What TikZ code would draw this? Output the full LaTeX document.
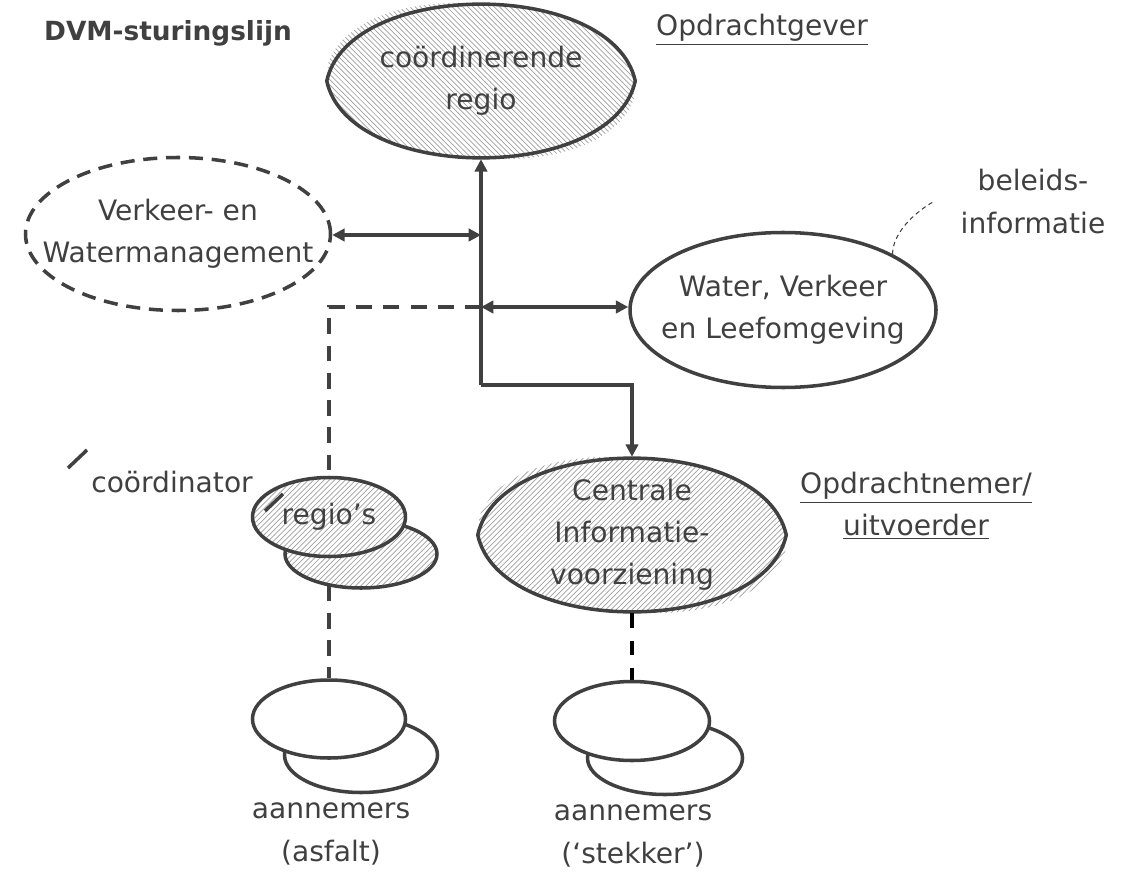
\documentclass[tikz,border=0pt]{standalone}
\usepackage{fontspec}
\setmainfont{DejaVu Sans}
\usetikzlibrary{shapes.geometric,arrows.meta,patterns,backgrounds}
\definecolor{ink}{HTML}{404040}
\definecolor{hatch}{HTML}{A0A0A0}

% lens outline round a named node
\newcommand{\lensline}[2][]{%
  \path[#1] (#2.west) .. controls +(0.45,2.05) and +(-0.45,2.05) .. (#2.east)
    .. controls +(-0.45,-2.05) and +(0.45,-2.05) .. (#2.west) -- cycle;}

\begin{document}
\begin{tikzpicture}[
    font=\fontsize{16}{24}\selectfont, color=ink, line width=2pt,
    >={Triangle[length=7pt,width=7pt]},
    blob/.style={ellipse, inner xsep=-0.8cm, inner ysep=-0.3cm, align=center},
    big/.style={minimum width=6.1cm, minimum height=3.06cm},
    small/.style={minimum width=3.06cm, minimum height=1.56cm},
    plain/.style={draw, fill=white},
    dashrim/.style={draw, dash pattern=on 8pt off 5pt},
    hatched/.style={draw, preaction={fill=white}, pattern=north east lines, pattern color=hatch},
    dline/.style={dash pattern=on 9pt off 6.5pt}
]
    \useasboundingbox (0,0) rectangle (22.96,-17.56); % canvas

    % Headings
    \node[font=\fontsize{15}{20}\selectfont\bfseries] (title) at (3.36,-0.66) {DVM-sturingslijn};
    \node (og) at (15.24,-0.6) {\underline{Opdrachtgever}};
    \node[align=center] (on) at (18.32,-10.12) {\underline{Opdrachtnemer/}\\\underline{uitvoerder}};
    \node[align=center] (bi) at (20.66,-4.03) {beleids-\\informatie};

    % Main bodies
    \node[blob, big] (cr) at (9.62,-1.62) {coördinerende\\regio}; % lens, drawn below
    \node[blob, big, dashrim] (vw) at (3.56,-4.68) {Verkeer- en\\Watermanagement};
    \node[blob, big, plain, minimum width=6.12cm, minimum height=3.1cm] (wvl) at (15.66,-6.2) {Water, Verkeer\\en Leefomgeving};
    \node[blob, big] (civ) at (12.64,-10.7) {Centrale\\Informatie-\\voorziening}; % lens, drawn below

    % Regio's (two stacked)
    \node[blob, small, hatched, minimum width=3.04cm, minimum height=1.36cm] (rgb) at (7.22,-11.08) {};
    \node[blob, small, hatched, minimum height=1.58cm] (rgf) at (6.58,-10.34) {regio’s};
    \node (co) at (3.44,-9.64) {coördinator};
    \draw (1.36,-9.36) -- (1.74,-9.0); % tick
    \draw (5.3,-10.22) -- (5.66,-9.88); % tick

    % Contractors
    \node[blob, small, plain, minimum height=1.5cm] (agb) at (7.22,-15.1) {};
    \node[blob, small, plain] (agf) at (6.58,-14.38) {};
    \node[align=center] (al) at (6.62,-16.68) {aannemers\\(asfalt)};
    \node[blob, small, plain, minimum width=3.1cm, minimum height=1.46cm] (sgb) at (13.3,-15.16) {};
    \node[blob, small, plain, minimum width=3.1cm, minimum height=1.58cm] (sgf) at (12.64,-14.42) {};
    \node[align=center] (sl) at (12.66,-16.72) {aannemers\\(‘stekker’)};

    % Trunk and arrows
    \coordinate (bend) at (9.62,-7.7);
    \coordinate (j1) at (9.62,-4.7);
    \coordinate (j2) at (9.62,-6.14);
    \draw[->] (bend) -- (cr.south);
    \draw[->] (bend) -| (civ.north);
    \draw[<->] (vw.east |- j1) -- (j1);
    \draw[<->] (j2) -- (wvl.west |- j2);
    \draw[dline] (j2) -| (rgf.north);
    \draw[line width=0.6pt, dash pattern=on 2.5pt off 2pt, shorten >=0.38cm]
        (wvl.north east) .. controls +(0.02,0.6) and +(-0.4,0) .. (bi.west); % note line

    \begin{scope}[on background layer={color=ink, line width=2pt}]
        % hatched lenses with a loose shade
        \lensline[pattern=north west lines, pattern color=hatch, transform canvas={rotate around={-6:(cr.center)}}]{cr}
        \lensline[draw=ink, preaction={fill=white}, pattern=north west lines, pattern color=hatch]{cr}
        \lensline[pattern=north east lines, pattern color=hatch, transform canvas={rotate around={-6:(civ.center)}}]{civ}
        \lensline[draw=ink, preaction={fill=white}, pattern=north east lines, pattern color=hatch]{civ}
        % dashed links behind the stacks
        \draw[dline] (rgf.south) -- (agf.north);
        \draw[draw=black, dash pattern=on 8.5pt off 7pt] (civ.south) -- (sgf.north);
    \end{scope}
\end{tikzpicture}
\end{document}
